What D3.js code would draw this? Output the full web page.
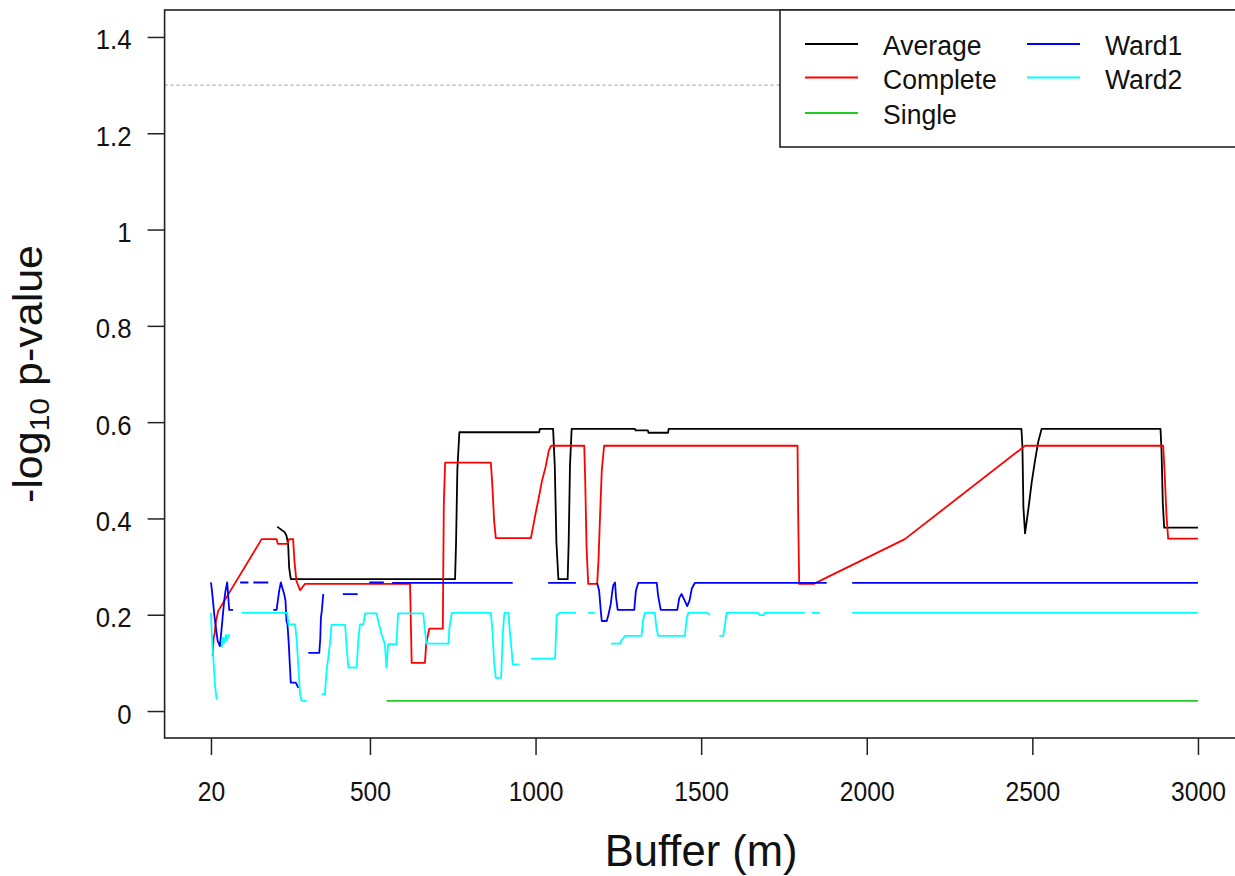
<!DOCTYPE html>
<html lang='en'>

<head>
    <meta charset='utf-8'>
    <title>Buffer p-values</title>
    <style>
        body {
            margin: 0;
            background-color: white;
            font-family: 'Liberation Sans', Arial, sans-serif;
        }

        svg {
            display: block;
        }
    </style>
    <script src='https://d3js.org/d3.v7.min.js' charset='utf-8'></script>
</head>

<body>
    <div id='placeholder'></div>
    <script type="text/javascript">
        const WIDTH = 1235;
        const HEIGHT = 876;

        // tick labels
        const xTicks = [20, 500, 1000, 1500, 2000, 2500, 3000];
        const yTicks = [0, 0.2, 0.4, 0.6, 0.8, 1, 1.2, 1.4];
        const threshold = 1.3;

        const seriesNames = ['Average', 'Complete', 'Single', 'Ward1', 'Ward2'];
        const seriesColors = ['#000000', '#ff0000', '#22cc22', '#0000ff', '#00ffff'];

        // Average
        const avgBuffer = [220, 243, 248, 253, 256, 261, 757, 760, 764, 770, 1011, 1013, 1053, 1058, 1063, 1069,
            1097, 1100, 1104, 1109, 1300, 1302, 1339, 1341, 1400, 1402, 2467, 2470, 2473, 2478, 2488, 2498, 2508,
            2518, 2528, 2887, 2890, 2894, 2898, 3000];
        const avgValue = [0.383, 0.371, 0.364, 0.347, 0.298, 0.274, 0.274, 0.35, 0.503, 0.579, 0.579, 0.586, 0.586,
            0.51, 0.35, 0.274, 0.274, 0.35, 0.51, 0.586, 0.586, 0.583, 0.583, 0.578, 0.578, 0.586, 0.586, 0.55, 0.423,
            0.369, 0.42, 0.475, 0.52, 0.56, 0.586, 0.586, 0.54, 0.43, 0.381, 0.381];

        // Complete
        const cmpBuffer = [25, 28, 31, 35, 42, 173, 218, 222, 250, 256, 268, 272, 278, 289, 304, 621, 623, 626, 666,
            670, 679, 720, 723, 727, 865, 869, 875, 880, 986, 1000, 1010, 1020, 1030, 1040, 1047, 1147, 1150, 1154,
            1159, 1186, 1190, 1195, 1200, 1207, 1791, 1793, 1796, 1840, 2115, 2478, 2895, 2899, 2905, 2910, 3000];
        const cmpValue = [0.114, 0.152, 0.16, 0.187, 0.208, 0.357, 0.357, 0.347, 0.347, 0.357, 0.357, 0.312, 0.27,
            0.251, 0.264, 0.264, 0.2, 0.1, 0.1, 0.14, 0.171, 0.171, 0.43, 0.516, 0.516, 0.475, 0.395, 0.359, 0.359,
            0.41, 0.444, 0.48, 0.506, 0.541, 0.551, 0.551, 0.478, 0.34, 0.264, 0.264, 0.312, 0.41, 0.5, 0.551, 0.551,
            0.406, 0.264, 0.264, 0.357, 0.551, 0.551, 0.5, 0.406, 0.358, 0.358];

        // Single
        const sglBuffer = [550, 3000];
        const sglValue = [0.021, 0.021];

        // Ward1 (null = missing)
        const w1Buffer = [20, 23, 25, 30, 35, 40, 47, 52, 56, 60, 64, 69, 72, 75, 87, 95, 108, 133, 140, 148, 193,
            200, 208, 218, 222, 226, 231, 235, 241, 245, 248, 251, 255, 258, 261, 276, 284, 300, 314, 347, 350, 352,
            355, 359, 390, 418, 463, 480, 498, 542, 555, 567, 931, 980, 1038, 1122, 1150, 1186, 1192, 1197, 1200,
            1215, 1220, 1227, 1232, 1235, 1240, 1243, 1248, 1298, 1303, 1310, 1366, 1370, 1378, 1428, 1434, 1441,
            1450, 1458, 1465, 1472, 1481, 1879, 1920, 1956, 3000];
        const w1Value = [0.267, 0.25, 0.236, 0.2, 0.173, 0.146, 0.135, 0.17, 0.2, 0.23, 0.25, 0.267, 0.24, 0.21,
            0.21, null, 0.267, 0.267, null, 0.267, 0.267, null, 0.21, 0.21, 0.23, 0.25, 0.267, 0.257, 0.243, 0.229,
            0.187, 0.18, 0.139, 0.097, 0.059, 0.059, 0.048, null, 0.121, 0.121, 0.15, 0.194, 0.21, 0.243, null,
            0.243, 0.243, null, 0.267, 0.267, null, 0.266, 0.266, null, 0.266, 0.266, null, 0.266, 0.25, 0.208,
            0.187, 0.187, 0.2, 0.222, 0.25, 0.262, 0.267, 0.236, 0.21, 0.21, 0.25, 0.266, 0.266, 0.24, 0.21, 0.21,
            0.235, 0.243, 0.23, 0.218, 0.23, 0.255, 0.266, 0.266, null, 0.266, 0.266];

        // Ward2 (null = missing)
        const w2Buffer = [20, 22, 24, 27, 32, 37, 45, 52, 57, 60, 65, 68, 74, 95, 113, 250, 254, 274, 279, 284, 289,
            294, 309, 330, 354, 364, 369, 374, 379, 384, 425, 430, 435, 460, 465, 470, 480, 485, 520, 525, 535, 545,
            550, 555, 580, 585, 661, 666, 671, 737, 740, 747, 865, 870, 875, 880, 896, 901, 906, 918, 923, 928, 931,
            950, 970, 986, 1059, 1064, 1074, 1122, 1140, 1159, 1179, 1200, 1228, 1255, 1259, 1270, 1320, 1325, 1330,
            1360, 1365, 1370, 1451, 1456, 1461, 1517, 1527, 1540, 1555, 1567, 1577, 1672, 1677, 1688, 1693, 1813,
            1825, 1834, 1859, 1900, 1956, 3000];
        const w2Value = [0.204, 0.17, 0.14, 0.111, 0.056, 0.024, null, 0.132, 0.152, 0.143, 0.158, 0.147, 0.16, null,
            0.204, 0.204, 0.18, 0.18, 0.146, 0.09, 0.035, 0.021, 0.021, null, 0.035, 0.035, 0.083, 0.11, 0.139, 0.179,
            0.179, 0.13, 0.09, 0.09, 0.15, 0.18, 0.18, 0.203, 0.203, 0.187, 0.16, 0.139, 0.09, 0.139, 0.139, 0.203,
            0.203, 0.166, 0.14, 0.14, 0.173, 0.204, 0.204, 0.166, 0.1, 0.069, 0.069, 0.16, 0.204, 0.204, 0.16, 0.125,
            0.097, 0.097, null, 0.109, 0.109, 0.2, 0.204, 0.204, null, 0.204, 0.204, null, 0.14, 0.14, 0.146, 0.156,
            0.156, 0.19, 0.204, 0.204, 0.173, 0.156, 0.156, 0.19, 0.204, 0.204, 0.2, null, 0.156, 0.156, 0.204,
            0.204, 0.199, 0.199, 0.204, 0.204, null, 0.204, 0.204, null, 0.204, 0.204];

        const seriesBuffers = [avgBuffer, cmpBuffer, sglBuffer, w1Buffer, w2Buffer];
        const seriesValues = [avgValue, cmpValue, sglValue, w1Value, w2Value];

        // R style 4% padding around xlim c(0, 3000), ylim c(0, 1.4)
        const x = d3.scaleLinear().domain([-120, 3120]).range([164.6, 1237.7]);
        const y = d3.scaleLinear().domain([-0.056, 1.456]).range([738, 10]);

        const svg = d3.select('#placeholder')
            .append('svg')
            .attr('width', WIDTH)
            .attr('height', HEIGHT)
            .style('font-family', "'Liberation Sans', Arial, sans-serif");

        // threshold line
        svg.append('line')
            .attr('x1', x.range()[0])
            .attr('x2', x.range()[1])
            .attr('y1', y(threshold))
            .attr('y2', y(threshold))
            .attr('stroke', '#9a9a9a')
            .attr('stroke-width', 1)
            .attr('stroke-dasharray', '3,3');

        const line = d3.line()
            .defined(function (d) { return d[1] !== null; })
            .x(function (d) { return x(d[0]); })
            .y(function (d) { return y(d[1]); });

        seriesNames.forEach(function (name, i) {
            const pts = d3.zip(seriesBuffers[i], seriesValues[i]);
            svg.append('path')
                .datum(pts)
                .attr('class', 'series')
                .attr('fill', 'none')
                .attr('stroke', seriesColors[i])
                .attr('stroke-width', 1.8)
                .attr('stroke-linejoin', 'round')
                .attr('d', line);
        });

        // box
        svg.append('rect')
            .attr('x', x.range()[0])
            .attr('y', y.range()[1])
            .attr('width', x.range()[1] - x.range()[0])
            .attr('height', y.range()[0] - y.range()[1])
            .attr('fill', 'none')
            .attr('stroke', '#222')
            .attr('stroke-width', 1.6);

        // axes
        const xAxis = svg.append('g')
            .attr('transform', 'translate(0,' + y.range()[0] + ')')
            .call(d3.axisBottom(x).tickValues(xTicks).tickSize(17).tickFormat(d3.format('d')));
        xAxis.select('.domain').remove();
        xAxis.selectAll('.tick line').attr('stroke', '#222').attr('stroke-width', 1.5);
        xAxis.selectAll('.tick text')
            .attr('y', 0)
            .attr('dy', 0)
            .attr('transform', 'translate(0,63) scale(0.88,1)')
            .attr('font-size', 28)
            .attr('fill', '#111');

        const yAxis = svg.append('g')
            .attr('transform', 'translate(' + x.range()[0] + ',0)')
            .call(d3.axisLeft(y).tickValues(yTicks).tickSize(17).tickFormat(d3.format('~g')));
        yAxis.select('.domain').remove();
        yAxis.selectAll('.tick line').attr('stroke', '#222').attr('stroke-width', 1.5);
        yAxis.selectAll('.tick text')
            .attr('x', 0)
            .attr('dy', 0)
            .attr('transform', 'translate(-33,12) scale(0.92,1)')
            .attr('font-size', 28)
            .attr('fill', '#111');

        // axis titles
        svg.append('text')
            .attr('transform', 'translate(' + ((x.range()[0] + x.range()[1]) / 2) + ',866) scale(0.99,1)')
            .attr('text-anchor', 'middle')
            .attr('font-size', 44)
            .attr('fill', '#111')
            .text('Buffer (m)');

        const yTitle = svg.append('text')
            .attr('transform', 'translate(42,' + ((y.range()[0] + y.range()[1]) / 2) + ') rotate(-90) scale(1,0.93)')
            .attr('text-anchor', 'middle')
            .attr('font-size', 43)
            .attr('fill', '#111');
        yTitle.append('tspan').text('-log');
        yTitle.append('tspan').attr('font-size', 30).attr('dy', 8).text('10');
        yTitle.append('tspan').attr('dy', -8).text(' p-value');

        // legend
        const legend = svg.append('g');
        legend.append('rect')
            .attr('x', 780)
            .attr('y', y.range()[1])
            .attr('width', x.range()[1] - 780)
            .attr('height', 137)
            .attr('fill', 'white')
            .attr('stroke', '#222')
            .attr('stroke-width', 1.6);

        const legendCols = [805, 1027];
        const legendRows = [44, 77.5, 113];
        seriesNames.forEach(function (name, i) {
            const col = i < 3 ? 0 : 1;
            const row = i < 3 ? i : i - 3;
            const lx = legendCols[col];
            const ly = legendRows[row];
            legend.append('line')
                .attr('x1', lx)
                .attr('x2', lx + 53)
                .attr('y1', ly)
                .attr('y2', ly)
                .attr('stroke', seriesColors[i])
                .attr('stroke-width', 1.8);
            legend.append('text')
                .attr('transform', 'translate(' + (lx + 78) + ',' + (ly + 11) + ') scale(0.95,1)')
                .attr('font-size', 28)
                .attr('fill', '#111')
                .text(name);
        });
    </script>
</body>

</html>
